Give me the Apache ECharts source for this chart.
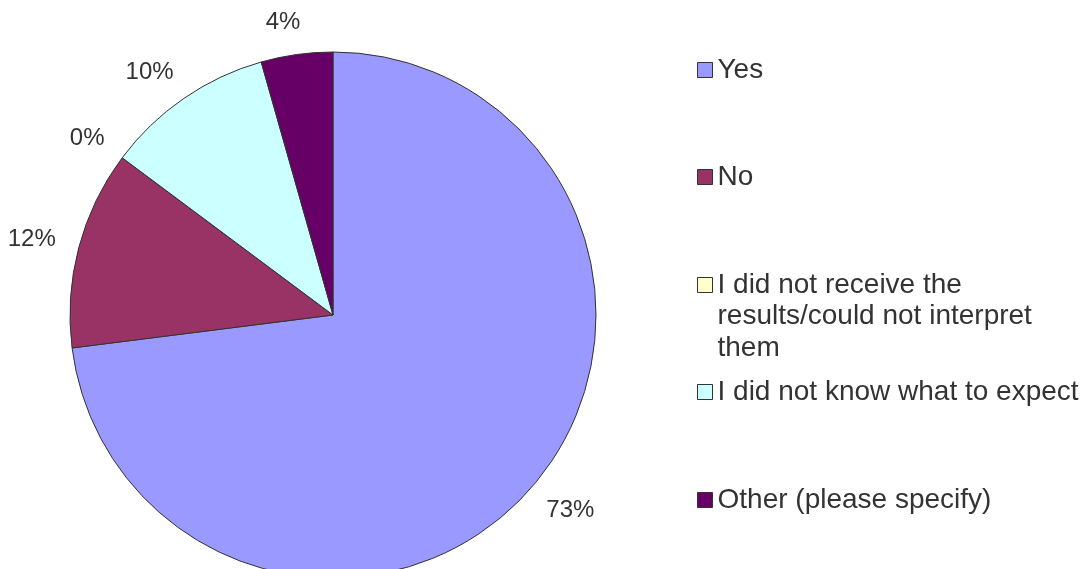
<!DOCTYPE html>
<html>
<head>
<meta charset="utf-8">
<script src="https://cdn.jsdelivr.net/npm/echarts@6/dist/echarts.min.js"></script>
<style>
  html, body { margin: 0; padding: 0; background: #ffffff; }
  #chart { width: 1084px; height: 569px; }
</style>
</head>
<body>
<div id="chart"></div>
<script>
// Survey answers, in clockwise order starting at 12 o'clock
const categories = [
  'Yes',
  'No',
  'I did not receive the results/could not interpret them',
  'I did not know what to expect',
  'Other (please specify)'
];
// Legend text with its line breaks
const legendText = [
  'Yes',
  'No',
  'I did not receive the\nresults/could not interpret\nthem',
  'I did not know what to expect',
  'Other (please specify)'
];
// Share of respondents, percent
const shares = [73.0, 12.2, 0, 10.4, 4.4];
const colors = ['#9999FF', '#993366', '#FFFFCC', '#CCFFFF', '#660066'];

const FONT = '"Liberation Sans", Arial, sans-serif';
const LINE = 31.5;                            // legend line height
const legendRows = [70, 177, 285, 392, 500];  // vertical centre of each legend marker

const chart = echarts.init(document.getElementById('chart'), null, { renderer: 'canvas' });

const legends = categories.map((name, i) => {
  const lines = legendText[i].split('\n');
  // Blank lines in front keep the marker level with the first line of a wrapped entry
  const pad = new Array(lines.length - 1).fill('');
  const shown = pad.concat(lines).join('\n');
  const boxH = (pad.length + lines.length) * LINE;
  return {
    data: [name],
    orient: 'vertical',
    left: 697,
    top: legendRows[i] - boxH / 2,
    padding: 0,
    itemGap: 0,
    itemWidth: 15,
    itemHeight: 15,
    icon: 'rect',
    selectedMode: false,
    itemStyle: { borderColor: '#333333', borderWidth: 1 },
    formatter: () => shown,
    textStyle: {
      fontFamily: FONT,
      fontSize: 28,
      color: '#333333',
      lineHeight: LINE
    }
  };
});

chart.setOption({
  animation: false,
  backgroundColor: '#ffffff',
  legend: legends,
  series: [{
    type: 'pie',
    center: [333, 315],
    radius: 263,
    startAngle: 90,
    clockwise: true,
    avoidLabelOverlap: false,
    emphasis: { disabled: true },
    itemStyle: { borderColor: '#333333', borderWidth: 1 },
    label: {
      show: true,
      position: 'outside',
      fontFamily: FONT,
      fontSize: 24,
      color: '#333333',
      distanceToLabelLine: 5,
      formatter: p => Math.round(p.value) + '%'
    },
    labelLine: { show: false, length: 32, length2: -13 },
    data: categories.map((name, i) => ({
      name: name,
      value: shares[i],
      itemStyle: { color: colors[i] }
    }))
  }]
});
</script>
</body>
</html>
